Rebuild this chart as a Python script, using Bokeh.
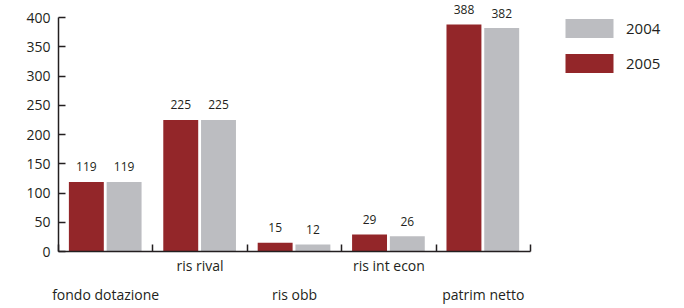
from bokeh.plotting import figure
from bokeh.models import (ColumnDataSource, FixedTicker, LinearAxis, Range1d,
                          Legend, LegendItem)
from bokeh.core.properties import value
from bokeh.embed import file_html
from bokeh.resources import INLINE

categories = ["fondo dotazione", "ris rival", "ris obb", "ris int econ", "patrim netto"]
values_2005 = [119, 225, 15, 29, 388]
values_2004 = [119, 225, 12, 26, 382]
y_ticks = [0, 50, 100, 150, 200, 250, 300, 350, 400]

RED = "#932629"
GREY = "#bcbdc1"
INK = "#231f20"
FONT = "Open Sans"

N = len(categories)
centers = [i + 0.5 for i in range(N)]
src05 = ColumnDataSource(dict(x=[c - 0.205 for c in centers], top=values_2005,
                              lab=[str(v) for v in values_2005]))
src04 = ColumnDataSource(dict(x=[c + 0.195 for c in centers], top=values_2004,
                              lab=[str(v) for v in values_2004]))

# plotting area: categories occupy 472 px, value axis 0..400 occupies 234 px
cat_px = 472 / N
val_px = 234 / 400
FW, FH = 618, 251
p = figure(width=676, height=300, output_backend="svg", toolbar_location=None,
           x_range=Range1d(0, FW / cat_px), y_range=Range1d(0, FH / val_px),
           frame_width=FW, frame_height=FH,
           min_border_left=58, min_border_top=0, min_border_right=0, min_border_bottom=0,
           x_axis_location=None, y_axis_location=None)
p.outline_line_color = None
p.xgrid.visible = False
p.ygrid.visible = False
p.background_fill_color = None
p.border_fill_color = "white"

r05 = p.vbar(x="x", top="top", width=0.37, source=src05, fill_color=RED, line_color=None)
r04 = p.vbar(x="x", top="top", width=0.37, source=src04, fill_color=GREY, line_color=None)

for s in (src05, src04):
    p.text(x="x", y="top", text="lab", source=s, y_offset=-15,
           text_align="center", text_baseline="middle",
           text_font=value(FONT), text_font_size="12px", text_color=INK)

# y axis
yax = LinearAxis(ticker=FixedTicker(ticks=y_ticks), bounds=(0, 400))
yax.axis_line_color = INK
yax.axis_line_width = 1.5
yax.major_tick_line_color = INK
yax.major_tick_line_width = 1.5
yax.major_tick_in = 7
yax.major_tick_out = 0
yax.minor_tick_line_color = None
yax.major_label_standoff = 8
yax.major_label_text_font = FONT
yax.major_label_text_font_size = "14px"
yax.major_label_text_color = INK
p.add_layout(yax, "left")

# x axis line with boundary ticks
bounds_ticks = list(range(N + 1))
xax = LinearAxis(ticker=FixedTicker(ticks=bounds_ticks), bounds=(0, N))
xax.axis_line_color = INK
xax.axis_line_width = 1.5
xax.major_tick_line_color = INK
xax.major_tick_line_width = 1.5
xax.major_tick_in = 7
xax.major_tick_out = 0
xax.minor_tick_line_color = None
xax.major_label_overrides = {t: "" for t in bounds_ticks}
xax.major_label_standoff = 0
p.add_layout(xax, "below")

def label_axis(idx, standoff):
    ax = LinearAxis(ticker=FixedTicker(ticks=[centers[i] for i in idx]))
    ax.major_label_overrides = {centers[i]: categories[i] for i in idx}
    ax.axis_line_color = None
    ax.major_tick_line_color = None
    ax.minor_tick_line_color = None
    ax.major_tick_in = 0
    ax.major_tick_out = 0
    ax.major_label_standoff = standoff
    ax.major_label_text_font = FONT
    ax.major_label_text_font_size = "14px"
    ax.major_label_text_color = INK
    p.add_layout(ax, "below")
    return ax

label_axis([1, 3], 4)
label_axis([0, 2, 4], 7)

legend = Legend(items=[LegendItem(label="2004", renderers=[r04]),
                       LegendItem(label="2005", renderers=[r05])],
                location=(501, 176), glyph_width=60, glyph_height=24,
                spacing=11, padding=0, margin=0, label_standoff=7,
                label_text_font=FONT, label_text_font_size="15px",
                label_text_color=INK, border_line_color=None,
                background_fill_alpha=0, label_height=24)
p.add_layout(legend, "center")

open("out.html", "w").write(file_html(p, INLINE))
